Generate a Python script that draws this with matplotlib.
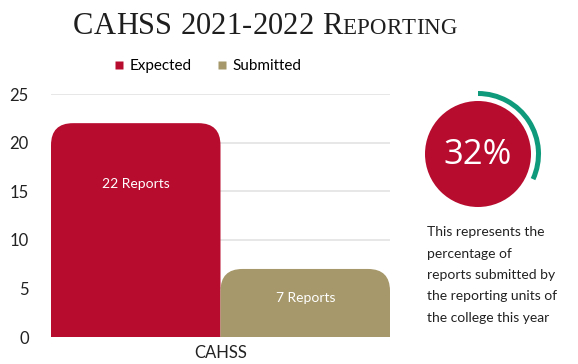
import matplotlib
matplotlib.use("Agg")
import matplotlib.pyplot as plt
from matplotlib.path import Path
from matplotlib.patches import PathPatch, Circle, Wedge

# data
categories = ["CAHSS"]
series_names = ["Expected", "Submitted"]
expected = [22]
submitted = [7]
bar_labels = ["22 Reports", "7 Reports"]
colors = ["#B80C2F", "#A6986A"]
arc_color = "#0E9A7B"

plt.rcParams['font.family'] = ['Lato', 'DejaVu Sans']

W, H = 578, 364
fig = plt.figure(figsize=(W / 100, H / 100), dpi=100)

# bar chart area (pixels: x 51..390, y 94..337)
ax = fig.add_axes([51 / W, (H - 337) / H, (390 - 51) / W, (337 - 94) / H])
ax.set_xlim(-0.5, 0.5)
ax.set_ylim(0, 25)
ax.set_yticks([0, 5, 10, 15, 20, 25])
ax.yaxis.grid(True, color="#E3E3E3", linewidth=1.2)
ax.set_axisbelow(True)
for s in ax.spines.values():
    s.set_visible(False)
ax.tick_params(axis="both", length=0, labelsize=12, colors="#222222")
ax.tick_params(axis="y", pad=16)
ax.tick_params(axis="x", pad=6)
ax.set_xticks([0])
ax.set_xticklabels(categories)

ax_w_px = (390 - 51)
ax_h_px = (337 - 94)
radius_px = 22
rx = radius_px / ax_w_px * 1.0
ry = radius_px / ax_h_px * 25


def rounded_bar(x0, x1, h, color):
    verts = [(x0, 0), (x0, h - ry), (x0, h), (x0 + rx, h),
             (x1 - rx, h), (x1, h), (x1, h - ry), (x1, 0), (x0, 0)]
    codes = [Path.MOVETO, Path.LINETO, Path.CURVE3, Path.CURVE3,
             Path.LINETO, Path.CURVE3, Path.CURVE3, Path.LINETO, Path.CLOSEPOLY]
    ax.add_patch(PathPatch(Path(verts, codes), facecolor=color, edgecolor="none", zorder=3))


width = 0.5
values = [expected[0], submitted[0]]
for i, (v, c, lab) in enumerate(zip(values, colors, bar_labels)):
    x0 = -0.5 + i * width
    rounded_bar(x0, x0 + width, v, c)
    ax.text(x0 + width / 2, v - 6.3 if i == 0 else v - 3, lab, ha="center", va="center",
            color="white", fontsize=10, zorder=4)
ax.axhline(0, color="#E6D9D9", linewidth=1.5, zorder=2)

# legend
handles = [plt.Line2D([], [], marker="s", linestyle="none", markersize=6,
                      markerfacecolor=c, markeredgecolor="none") for c in colors]
fig.legend(handles, series_names, loc="center", bbox_to_anchor=(207 / W, (H - 66) / H),
           ncol=2, frameon=False, fontsize=11, handletextpad=0.3, columnspacing=1.6,
           handlelength=0.8)

# title: small caps drawn letter by letter with some tracking
title_y = (H - 34) / H
big = "CAHSS 2021-2022 R"
small = "EPORTING"
pieces = [(ch, 22) for ch in big] + [(ch, 16.5) for ch in small]
fig.canvas.draw()
r = fig.canvas.get_renderer()
texts = []
for ch, fs in pieces:
    t = fig.text(0, title_y, ch, fontsize=fs, family="Liberation Serif",
                 color="#1E1E1E", va="baseline")
    texts.append(t)
fig.canvas.draw()
tracking = 0.2
widths = []
for t, (ch, fs) in zip(texts, pieces):
    if ch == " ":
        widths.append(fs * 0.25 * 100 / 72)
    else:
        widths.append(t.get_window_extent(r).width)
total = sum(widths) + tracking * (len(widths) - 1)
xpos = 265 - total / 2
for t, w in zip(texts, widths):
    t.set_x(xpos / W)
    xpos += w + tracking

# percentage circle
ov = fig.add_axes([0, 0, 1, 1], zorder=5)
ov.set_xlim(0, W)
ov.set_ylim(H, 0)
ov.set_aspect("equal")
ov.axis("off")
pct = submitted[0] / expected[0] * 100
cx, cy = 478, 154
ov.add_patch(Circle((cx, cy), 53, facecolor=colors[0], edgecolor="none"))
# y axis is inverted, so angles go clockwise on screen
ov.add_patch(Wedge((cx, cy), 63, 270, 270 + 360 * pct / 100, width=5,
                   facecolor=arc_color, edgecolor="none"))
ov.text(cx, cy + 1, f"{pct:.0f}%", ha="center", va="center", color="white",
        fontsize=25, family=["Open Sans", "DejaVu Sans"])

note = ["This represents the", "percentage of", "reports submitted by",
        "the reporting units of", "the college this year"]
for i, line in enumerate(note):
    ov.text(427, 232 + i * 21.5, line, ha="left", va="center", fontsize=10, color="#222222")

fig.savefig("out.png", dpi=100)
